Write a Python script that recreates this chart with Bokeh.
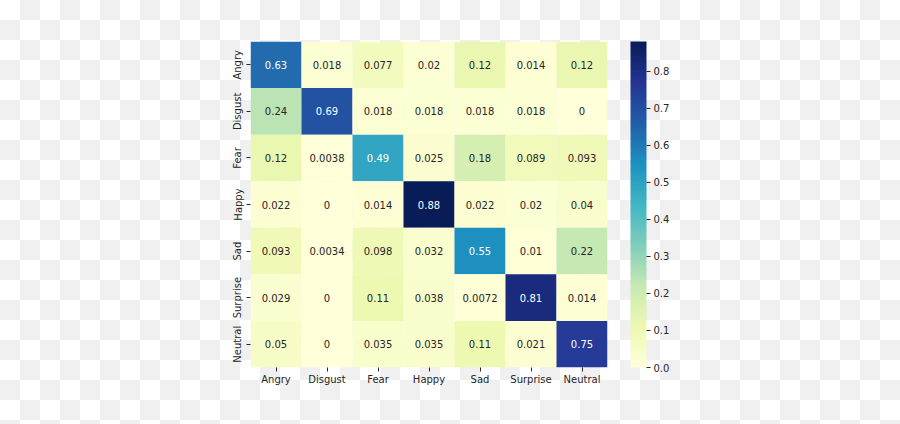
from bokeh.plotting import figure
from bokeh.models import ColumnDataSource, LinearColorMapper, ColorBar, FixedTicker, FactorRange, PrintfTickFormatter
from bokeh.core.properties import value
from bokeh.palettes import YlGnBu9
from bokeh.embed import file_html
from bokeh.resources import INLINE

classes = ["Angry", "Disgust", "Fear", "Happy", "Sad", "Surprise", "Neutral"]

row_angry = [0.63, 0.018, 0.077, 0.02, 0.12, 0.014, 0.12]
row_disgust = [0.24, 0.69, 0.018, 0.018, 0.018, 0.018, 0.0]
row_fear = [0.12, 0.0038, 0.49, 0.025, 0.18, 0.089, 0.093]
row_happy = [0.022, 0.0, 0.014, 0.88, 0.022, 0.02, 0.04]
row_sad = [0.093, 0.0034, 0.098, 0.032, 0.55, 0.01, 0.22]
row_surprise = [0.029, 0.0, 0.11, 0.038, 0.0072, 0.81, 0.014]
row_neutral = [0.05, 0.0, 0.035, 0.035, 0.11, 0.021, 0.75]

cbar_ticks = [0.0, 0.1, 0.2, 0.3, 0.4, 0.5, 0.6, 0.7, 0.8]

matrix = [row_angry, row_disgust, row_fear, row_happy, row_sad, row_surprise, row_neutral]

# YlGnBu continuous palette (interpolated from the 9 brewer anchors)
anchors = list(reversed(YlGnBu9))
def hex2rgb(h):
    return tuple(int(h[i:i + 2], 16) for i in (1, 3, 5))
argb = [hex2rgb(h) for h in anchors]
palette = []
N = 256
for i in range(N):
    t = i / (N - 1) * (len(argb) - 1)
    k = min(int(t), len(argb) - 2)
    f = t - k
    c = [round(argb[k][j] + (argb[k + 1][j] - argb[k][j]) * f) for j in range(3)]
    palette.append("#%02x%02x%02x" % tuple(c))

vmax = max(max(r) for r in matrix)
mapper = LinearColorMapper(palette=palette, low=0.0, high=vmax)

xs, ys, vals, labels, tcolors = [], [], [], [], []
for r, name in enumerate(classes):
    for c, col in enumerate(classes):
        v = matrix[r][c]
        xs.append(col)
        ys.append(name)
        vals.append(v)
        labels.append(f"{v:.2g}")
        tcolors.append("#ffffff" if v > 0.45 else "#262626")

src = ColumnDataSource(dict(x=xs, y=ys, v=vals, label=labels, tc=tcolors))

p = figure(width=900, height=424, output_backend="svg", toolbar_location=None,
           x_range=FactorRange(*classes), y_range=FactorRange(*list(reversed(classes))),
           min_border_left=250, min_border_top=41, min_border_bottom=57, min_border_right=293,
           tools="")
p.frame_width = 357
p.frame_height = 326
p.x_range.range_padding = 0
p.y_range.range_padding = 0
p.outline_line_color = None
p.grid.visible = False
p.background_fill_alpha = 0
p.border_fill_alpha = 0
p.styles = {
    "background-image": "repeating-conic-gradient(#f0f0f0 0 25%, #ffffff 0 50%)",
    "background-size": "40px 40px",
}

p.rect(x="x", y="y", width=1, height=1, source=src,
       fill_color={"field": "v", "transform": mapper}, line_color=None)
p.text(x="x", y="y", text="label", source=src, text_color="tc",
       text_align="center", text_baseline="middle",
       text_font=value("DejaVu Sans"), text_font_size="10px")

for ax in (p.xaxis[0], p.yaxis[0]):
    ax.axis_line_color = None
    ax.major_tick_in = 0
    ax.major_tick_out = 4
    ax.major_tick_line_color = "#262626"
    ax.minor_tick_line_color = None
    ax.major_label_text_font = "DejaVu Sans"
    ax.major_label_text_font_size = "10px"
    ax.major_label_text_color = "#262626"
p.xaxis.major_label_standoff = 2
p.yaxis.major_label_standoff = 3
p.yaxis.major_label_orientation = "vertical"

cb = ColorBar(color_mapper=mapper, ticker=FixedTicker(ticks=cbar_ticks),
              formatter=PrintfTickFormatter(format="%.1f"),
              width=16, height=326, margin=0, padding=0,
              major_tick_in=0, major_tick_out=4, major_tick_line_color="#262626",
              minor_tick_line_color=None, bar_line_color=None,
              label_standoff=3, major_label_text_font="DejaVu Sans",
              major_label_text_font_size="10px", major_label_text_color="#262626",
              background_fill_alpha=0, location=(23, 0))
p.add_layout(cb, "right")

open("out.html", "w").write(file_html(p, INLINE))
